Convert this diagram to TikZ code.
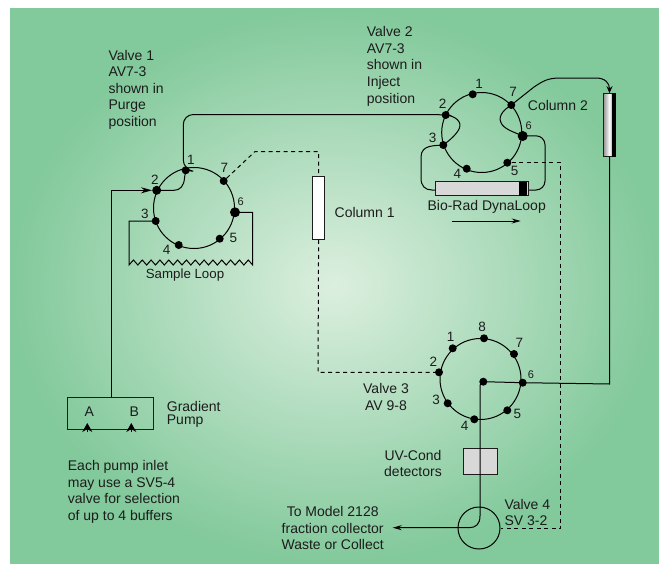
\documentclass[tikz,border=0pt]{standalone}
\usepackage{fontspec}
\setmainfont{Liberation Sans}
\usepackage{tikz}
\usetikzlibrary{arrows.meta,positioning}
\definecolor{bgouter}{HTML}{82C99B}
\definecolor{bginner}{HTML}{DCEFDF}
\definecolor{boxgrey}{HTML}{D8D8D8}
\definecolor{inkdark}{HTML}{1C1C1C}
\tikzset{
  lbl/.style={font=\fontsize{14}{16.6}\selectfont, text=inkdark, inner sep=0pt, align=left},
  portnum/.style={font=\fontsize{13.5}{15}\selectfont, text=inkdark, inner sep=0pt},
  smallnum/.style={font=\fontsize{11}{12}\selectfont, text=inkdark, inner sep=0pt},
  port/.style={circle, fill=black, inner sep=0pt, minimum size=8pt},
  bigport/.style={circle, fill=black, inner sep=0pt, minimum size=10pt},
  valve/.style={circle, draw=black, line width=1pt, inner sep=0pt},
  pipe/.style={draw=black, line width=1pt},
  dashpipe/.style={draw=black, line width=1pt, dash pattern=on 4pt off 3.5pt},
  greybox/.style={draw=inkdark, line width=1pt, fill=boxgrey, inner sep=0pt},
  tube/.style={-{Stealth[length=11pt,width=6pt]}},
}
\begin{document}
\begin{tikzpicture}[x=1pt,y=-1pt]
    \useasboundingbox (0,0) rectangle (659,563);
    % Background
    \shade[inner color=bginner, outer color=bgouter] (10,8) rectangle (659,563);

    % Valve bodies
    \node[valve, minimum size=81pt] (V1) at (194,208) {};
    \node[valve, minimum size=80pt] (V2) at (481.7,132.5) {};
    \node[valve, minimum size=81pt] (V3) at (480.5,379) {};
    \node[valve, minimum size=42pt] (V4) at (479,528) {};

    % Valve 1 ports
    \foreach \n/\px/\py/\lx/\ly in {1/185.7/170.3/191/160, 3/155.7/221/145/214.3, 4/178.7/245/166.7/250,
        5/219.7/238.7/233.3/238.3, 7/223.7/181/224.3/168.3} {
      \node[port] (V1p\n) at (\px,\py) {};
      \node[portnum] (V1n\n) at (\lx,\ly) {\n};
    }
    \node[bigport, minimum size=9pt] (V1p2) at (156.7,190.3) {};
    \node[portnum] (V1n2) at (155,179.3) {2};
    \node[bigport] (V1p6) at (235,212.3) {};
    \node[smallnum] (V1n6) at (240.7,201.7) {6};

    % Valve 2 ports
    \foreach \n/\px/\py/\lx/\ly in {1/472.7/94.3/479/84, 2/445.7/115/442.7/103.3, 3/443.3/145/432.7/138.3,
        4/466.7/168.7/457.3/174, 5/507.3/162.7/514.7/170.7, 7/511.3/105/513/92.3} {
      \node[port] (V2p\n) at (\px,\py) {};
      \node[portnum] (V2n\n) at (\lx,\ly) {\n};
    }
    \node[bigport] (V2p6) at (522.7,136) {};
    \node[smallnum] (V2n6) at (528.7,125.7) {6};

    % Valve 3 ports
    \foreach \n/\px/\py/\lx/\ly in {1/452.7/348.3/450.7/336.7, 2/439/372.3/433.3/361.7, 3/447.7/403.3/436/400.3,
        4/474.3/419.3/464.7/425.7, 5/507.3/410.3/517.3/414.3, 7/514/354/519.3/342.7, 8/484/338.3/482/326.5} {
      \node[port] (V3p\n) at (\px,\py) {};
      \node[portnum] (V3n\n) at (\lx,\ly) {\n};
    }
    \node[port] (V3p6) at (522.7,382.7) {};
    \node[smallnum] (V3n6) at (531,374.3) {6};
    \node[port] (V3hub) at (483.3,381.7) {};

    % Columns, loop and detector boxes
    \node[draw=inkdark, line width=1pt, fill=white, inner sep=0pt, minimum width=11.3pt, minimum height=62.6pt] (col1) at (318.6,208) {};
    \node[draw=inkdark, line width=1pt, left color=gray!80, right color=black!75, middle color=white, inner sep=0pt,
        minimum width=11.6pt, minimum height=63pt] (col2) at (609.5,125.2) {};
    \fill[black] ([xshift=-3.5pt]col2.north east) rectangle (col2.south east);
    \node[greybox, minimum width=92.7pt, minimum height=14.3pt] (dyna) at (482.3,188.8) {};
    \fill[black] (519.3,181.7) rectangle (526.7,196);
    \node[greybox, minimum width=34pt, minimum height=26pt] (uv) at (480.7,461.7) {};
    \node[draw=inkdark, line width=1pt, inner sep=0pt, minimum width=85.7pt, minimum height=32.3pt] (pump) at (110.8,413.8) {};

    % Valve 1 plumbing
    \draw[pipe, tube] (pump.north -| 111.5,0) |- (V1p2.west);
    \draw[pipe] (V1p2.center) -- (174,190.3) .. controls (180,190.3) and (184,186) .. (184.5,178) -- (V1p1.center);
    \draw[pipe, rounded corners=10pt] (V1p1.center) -- (183.3,170) -- (183.3,114.5) -- (V2p2.west |- 0,114.5) -- (V2p2.center);
    \draw[dashpipe] (V1p7) -- (255,151.5) -- (318.6,151.5) -- (col1.north);
    \draw[dashpipe] (col1.south) -- (318,372.3) -- (V3p2);
    \coordinate (loopL) at (129,265);
    \coordinate (loopR) at (252.7,265);
    \draw[pipe] (V1p3.center) -- (loopL |- V1p3) -- (loopL)
      \foreach \i in {1,...,14} { -- ++(4.418,-5) -- ++(4.418,5) }
      -- (loopR |- V1p6) -- (V1p6.center);

    % Valve 2 plumbing
    \draw[pipe] (V2p2.center) .. controls (456,116) and (462,122) .. (459.3,128.3) .. controls (457,134) and (450,140) .. (V2p3.center);
    \draw[pipe] (V2p7.center) .. controls (505,109) and (498,115) .. (500.7,122) .. controls (503,129) and (514,132) .. (V2p6.center);
    \draw[pipe] (V2p3.center) .. controls (436,146) and (421,144) .. (421,157) -- (421,178) .. controls (421,186) and (425,190) .. (432,190) -- (dyna.west |- 0,190);
    \draw[pipe, rounded corners=9pt] (V2p6.center) -- (545,135.7) -- (545,190) -- (dyna.east |- 0,190);
    \draw[dashpipe] (V2p5) -- (560.7,162.7) -- (560.7,528.7) -- (V4.east |- 0,528.7);
    \draw[pipe, -{Stealth[length=7pt,width=6pt]}] (V2p7.center) -- (534,87) .. controls (543,81) and (548,78) .. (560,78) -- (596,78) .. controls (605,78) and (609.5,83) .. (col2.north);

    % Valve 3 and valve 4 plumbing
    \draw[pipe] (col2.south) -- (609.7,384) -- (V3p6.center);
    \draw[pipe] (V3p6.center) -- (V3hub.center);
    \draw[pipe, -{Stealth[length=9pt,width=5pt]}] (V3hub.center) .. controls (481,381.7) and (480,383) .. (480,386) -- (480,516)
      .. controls (480,524) and (476,527.7) .. (469,527.7) -- (392.7,527.7);

    % Pump inlets and flow arrow
    \coordinate (inA) at (87.3,432);
    \coordinate (inB) at (131.3,432);
    \draw[pipe, -{Stealth[length=9pt,width=10pt]}] (inA) -- ++(0,-9);
    \draw[pipe, -{Stealth[length=9pt,width=10pt]}] (inB) -- ++(0,-9);
    \coordinate (flowL) at (451.7,221);
    \coordinate (flowR) at (520.7,221);
    \draw[pipe, -{Stealth[length=9pt,width=5pt]}] (flowL) -- (flowR);

    % Labels
    \node[lbl, anchor=west] (v1txt) at (108.3,89.7) {Valve 1\\AV7-3\\shown in\\Purge\\position};
    \node[lbl, anchor=west] (v2txt) at (366.7,66.3) {Valve 2\\AV7-3\\shown in\\Inject\\position};
    \node[lbl, anchor=west] (col1txt) at (334.5,212.5) {Column 1};
    \node[lbl, anchor=west] (col2txt) at (527.7,105) {Column 2};
    \node[lbl, font=\fontsize{13.3}{16}\selectfont] (looptxt) at (185,275) {Sample Loop};
    \node[lbl] (dynatxt) at (486.7,206.7) {Bio-Rad DynaLoop};
    \node[lbl, align=center] (v3txt) at (386,396.8) {Valve 3\\AV 9-8};
    \node[lbl, align=center] (uvtxt) at (413,463.3) {UV-Cond\\detectors};
    \node[lbl, anchor=west] (v4txt) at (504.3,512.5) {Valve 4\\SV 3-2};
    \node[lbl, align=center] (tomodel) at (332.7,528) {To Model 2128\\fraction collector\\Waste or Collect};
    \node[lbl] (atxt) at (89.3,412) {A};
    \node[lbl] (btxt) at (134.3,412) {B};
    \node[lbl, anchor=west, font=\fontsize{14}{13.5}\selectfont] (pumptxt) at (166.7,414.3) {Gradient\\Pump};
    \node[lbl, anchor=west] (inlettxt) at (67.7,491.8) {Each pump inlet\\may use a SV5-4\\valve for selection\\of up to 4 buffers};
\end{tikzpicture}
\end{document}
